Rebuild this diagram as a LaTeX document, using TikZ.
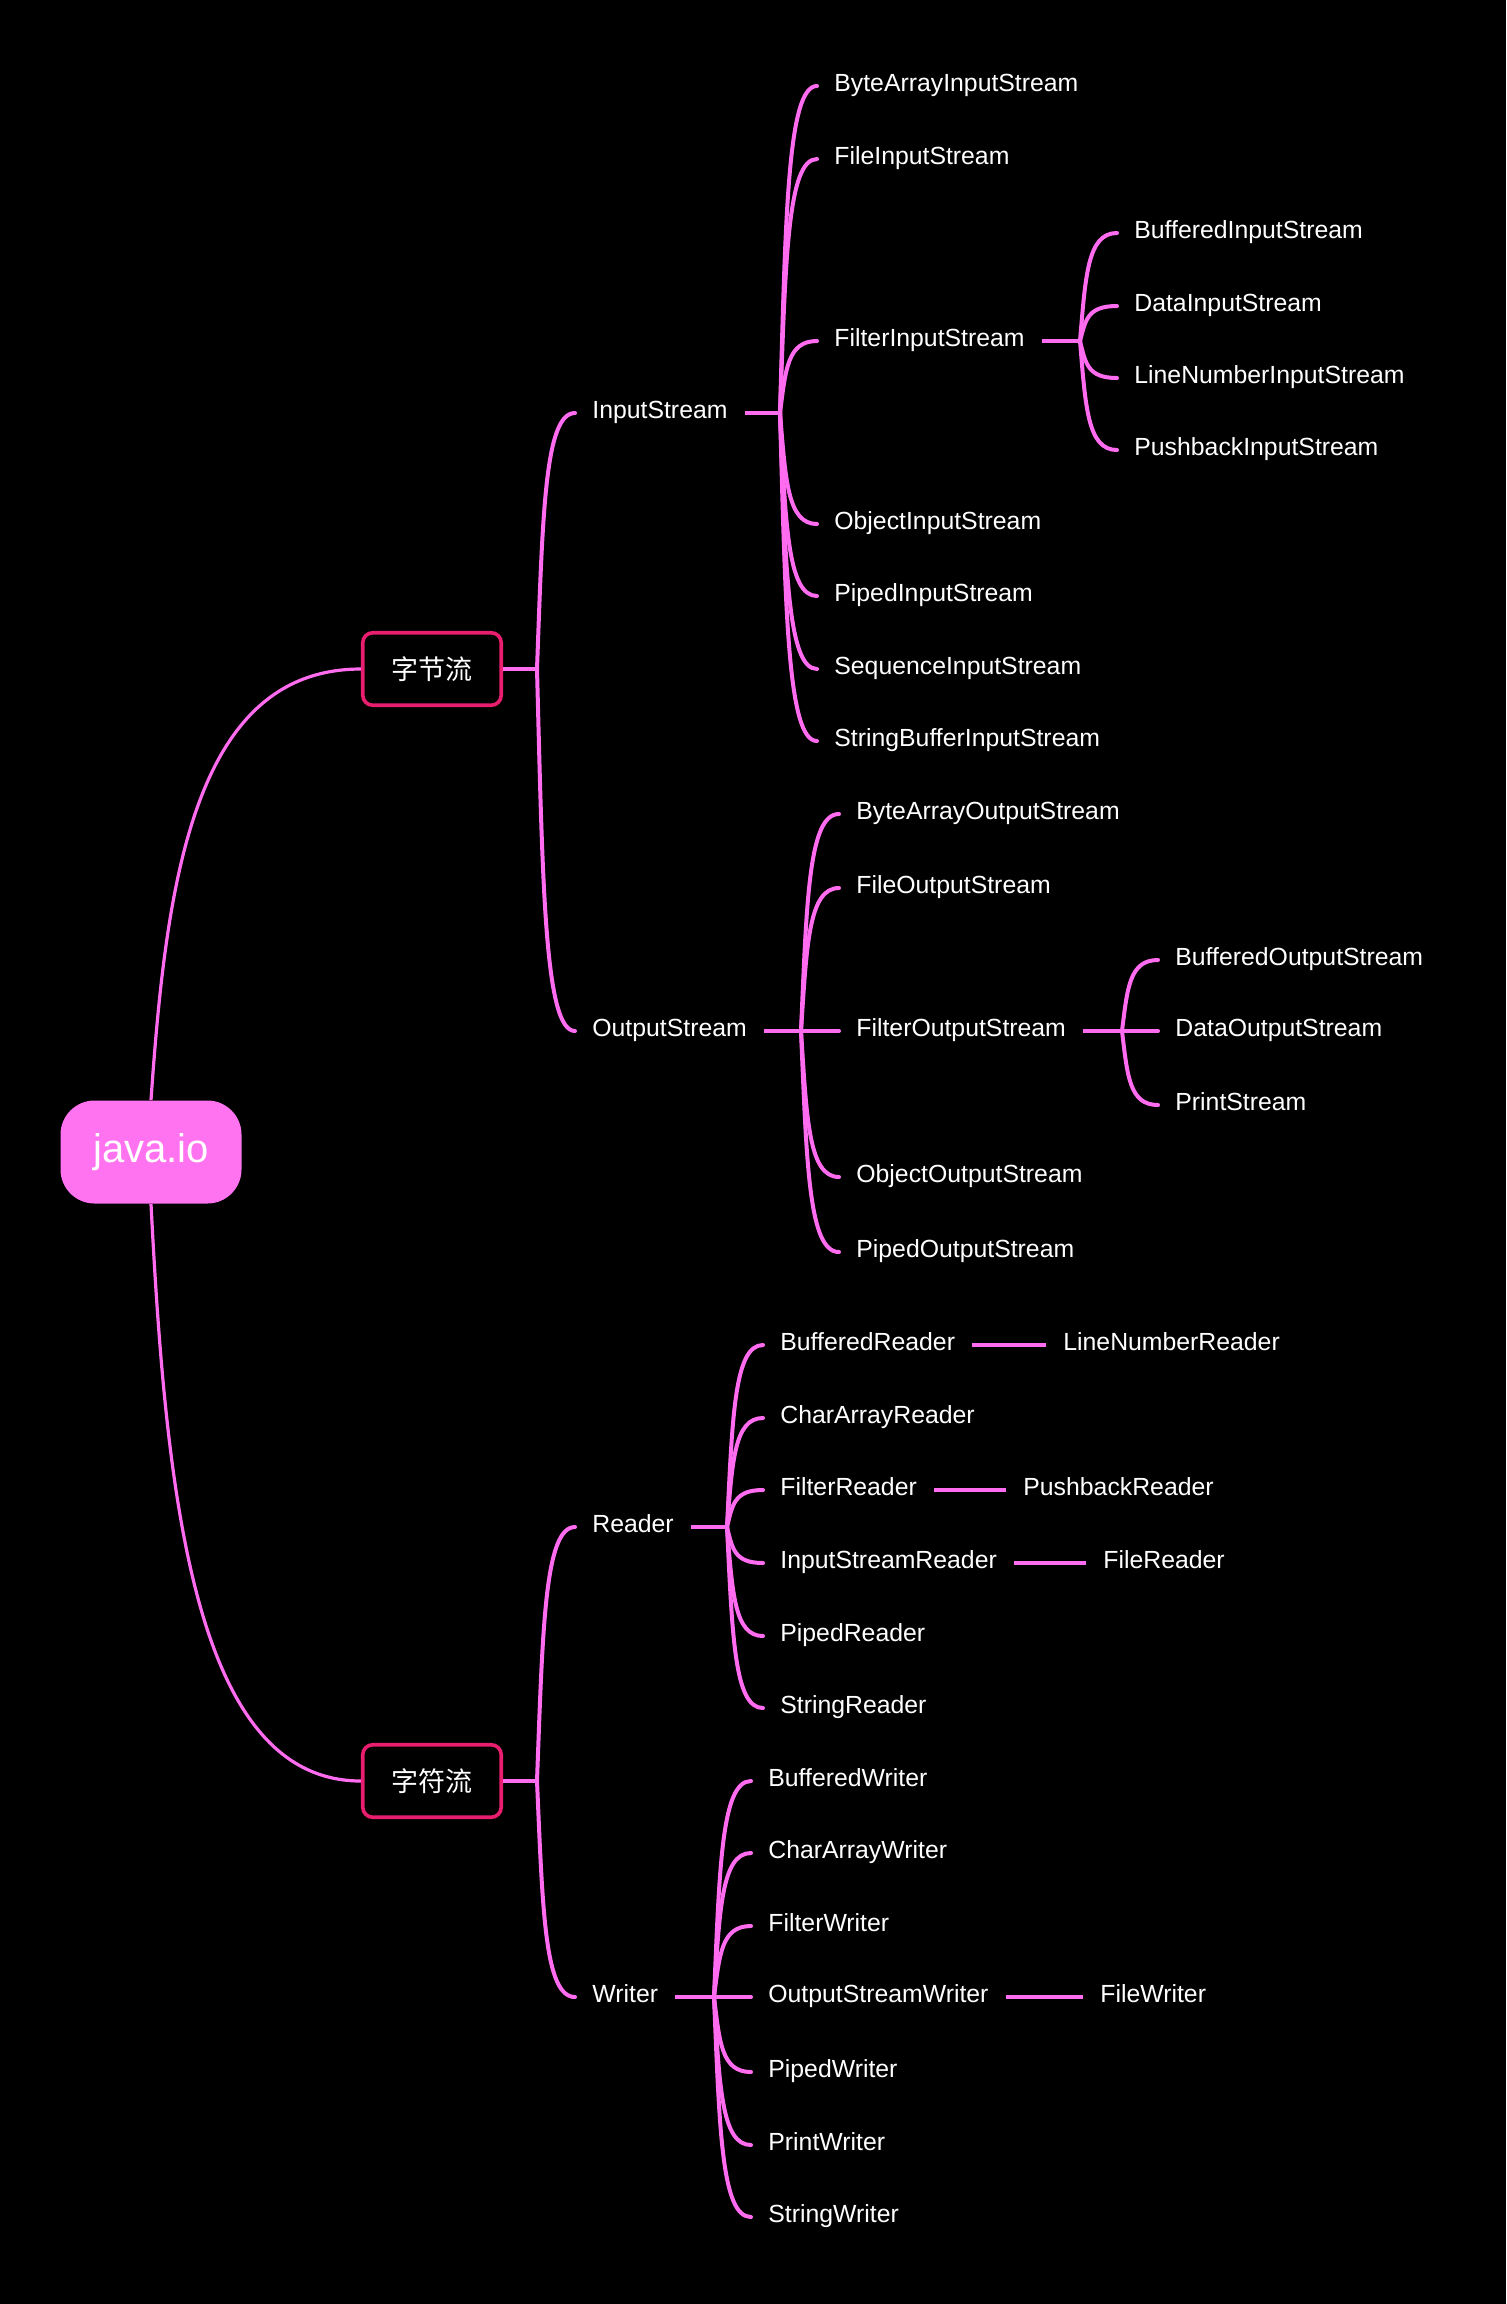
\documentclass[tikz,border=0pt]{standalone}
\usepackage{fontspec}
\setmainfont{Liberation Sans}
\newfontfamily\cjk{Noto Sans CJK SC}
\usetikzlibrary{calc}
\definecolor{lnpink}{RGB}{255,108,240}
\definecolor{rootpink}{RGB}{255,115,240}
\definecolor{boxred}{RGB}{233,30,110}
\newcommand\brc[2]{\draw[brline] let \p1=(#1), \p2=(#2.west) in (\p1) .. controls ({\x1+0.15*(\x2-\x1)},{\y1+0.6*(\y2-\y1)}) and ({\x1+0.2*(\x2-\x1)},\y2) .. (\p2);}
\begin{document}
\begin{tikzpicture}[x=0.5pt,y=-0.5pt,
  leaf/.style={text=white, font=\fontsize{12.4}{15}\selectfont, anchor=west, inner xsep=8.5pt, inner ysep=0pt, text height=0.75em, text depth=0.25em},
  rootbox/.style={fill=rootpink, rounded corners=17pt, minimum width=90.5pt, minimum height=51.5pt, text=white, font=\fontsize{20}{24}\selectfont, inner sep=0pt},
  catbox/.style={draw=boxred, line width=1.8pt, rounded corners=5pt, minimum width=69.25pt, minimum height=36.25pt, text=white, font=\cjk\fontsize{13.5}{16}\selectfont, inner sep=0pt},
  brline/.style={draw=lnpink, line width=2pt, line cap=round},
  rootline/.style={draw=lnpink, line width=1.6pt},
  stub/.style={draw=lnpink, line width=2.2pt},
  solo/.style={draw=lnpink, line width=2.3pt},
]
\fill[black] (0,0) rectangle (1506,2304);

% level 0 / 1
\node[rootbox] (root) at (151,1152) {java.io};
\node[catbox] (byte) at (432,669) {字节流};
\node[catbox] (char) at (432,1781) {字符流};

\draw[rootline] let \p1=(root.north), \p2=(byte.west) in (\p1) .. controls ({\x1+7.5pt},{\y1+0.5*(\y2-\y1)}) and ({\x1+0.2*(\x2-\x1)},\y2) .. (\p2);
\draw[rootline] let \p1=(root.south), \p2=(char.west) in (\p1) .. controls ({\x1+7.5pt},{\y1+0.5*(\y2-\y1)}) and ({\x1+0.2*(\x2-\x1)},\y2) .. (\p2);

% level 2
\coordinate (b0) at (537,669);
\coordinate (b1) at (537,1781);
\node[leaf] (is) at (575,413) {InputStream};
\node[leaf] (os) at (575,1031) {OutputStream};
\node[leaf] (rd) at (575,1527) {Reader};
\node[leaf] (wr) at (575,1997) {Writer};
\draw[stub] (byte.east) -- (b0);
\draw[stub] (char.east) -- (b1);
\brc{b0}{is}
\brc{b0}{os}
\brc{b1}{rd}
\brc{b1}{wr}

% InputStream
\coordinate (bis) at (780,413);
\draw[stub] (is.east) -- (bis);
\node[leaf] (bais) at (817,86) {ByteArrayInputStream};
\node[leaf] (fis) at (817,159) {FileInputStream};
\node[leaf] (filis) at (817,341) {FilterInputStream};
\node[leaf] (ois) at (817,524) {ObjectInputStream};
\node[leaf] (pis) at (817,596) {PipedInputStream};
\node[leaf] (sis) at (817,669) {SequenceInputStream};
\node[leaf] (sbis) at (817,741) {StringBufferInputStream};
\foreach \kk in {bais,fis,filis,ois,pis,sis,sbis} {\brc{bis}{\kk}}

% FilterInputStream
\coordinate (bfis) at (1080,341);
\draw[stub] (filis.east) -- (bfis);
\node[leaf] (bufis) at (1117,233) {BufferedInputStream};
\node[leaf] (dis) at (1117,306) {DataInputStream};
\node[leaf] (lnis) at (1117,378) {LineNumberInputStream};
\node[leaf] (pbis) at (1117,450) {PushbackInputStream};
\foreach \kk in {bufis,dis,lnis,pbis} {\brc{bfis}{\kk}}

% OutputStream
\coordinate (bos) at (801,1031);
\draw[stub] (os.east) -- (bos);
\node[leaf] (baos) at (839,814) {ByteArrayOutputStream};
\node[leaf] (fos) at (839,888) {FileOutputStream};
\node[leaf] (filos) at (839,1031) {FilterOutputStream};
\node[leaf] (oos) at (839,1177) {ObjectOutputStream};
\node[leaf] (pos) at (839,1252) {PipedOutputStream};
\foreach \kk in {baos,fos,filos,oos,pos} {\brc{bos}{\kk}}

% FilterOutputStream
\coordinate (bfos) at (1122,1031);
\draw[stub] (filos.east) -- (bfos);
\node[leaf] (bufos) at (1158,960) {BufferedOutputStream};
\node[leaf] (dos) at (1158,1031) {DataOutputStream};
\node[leaf] (ps) at (1158,1105) {PrintStream};
\foreach \kk in {bufos,dos,ps} {\brc{bfos}{\kk}}

% Reader
\coordinate (brd) at (727,1527);
\draw[stub] (rd.east) -- (brd);
\node[leaf] (bufr) at (763,1345) {BufferedReader};
\node[leaf] (car) at (763,1418) {CharArrayReader};
\node[leaf] (filr) at (763,1490) {FilterReader};
\node[leaf] (isr) at (763,1563) {InputStreamReader};
\node[leaf] (pr) at (763,1636) {PipedReader};
\node[leaf] (sr) at (763,1708) {StringReader};
\foreach \kk in {bufr,car,filr,isr,pr,sr} {\brc{brd}{\kk}}
\node[leaf] (lnr) at (1046,1345) {LineNumberReader};
\node[leaf] (pbr) at (1006,1490) {PushbackReader};
\node[leaf] (fr) at (1086,1563) {FileReader};
\draw[solo] (bufr.east) -- (lnr.west);
\draw[solo] (filr.east) -- (pbr.west);
\draw[solo] (isr.east) -- (fr.west);

% Writer
\coordinate (bwr) at (714,1997);
\draw[stub] (wr.east) -- (bwr);
\node[leaf] (bufw) at (751,1781) {BufferedWriter};
\node[leaf] (caw) at (751,1853) {CharArrayWriter};
\node[leaf] (filw) at (751,1926) {FilterWriter};
\node[leaf] (osw) at (751,1997) {OutputStreamWriter};
\node[leaf] (pw) at (751,2072) {PipedWriter};
\node[leaf] (prw) at (751,2145) {PrintWriter};
\node[leaf] (sw) at (751,2217) {StringWriter};
\foreach \kk in {bufw,caw,filw,osw,pw,prw,sw} {\brc{bwr}{\kk}}
\node[leaf] (fw) at (1083,1997) {FileWriter};
\draw[solo] (osw.east) -- (fw.west);
\end{tikzpicture}
\end{document}
